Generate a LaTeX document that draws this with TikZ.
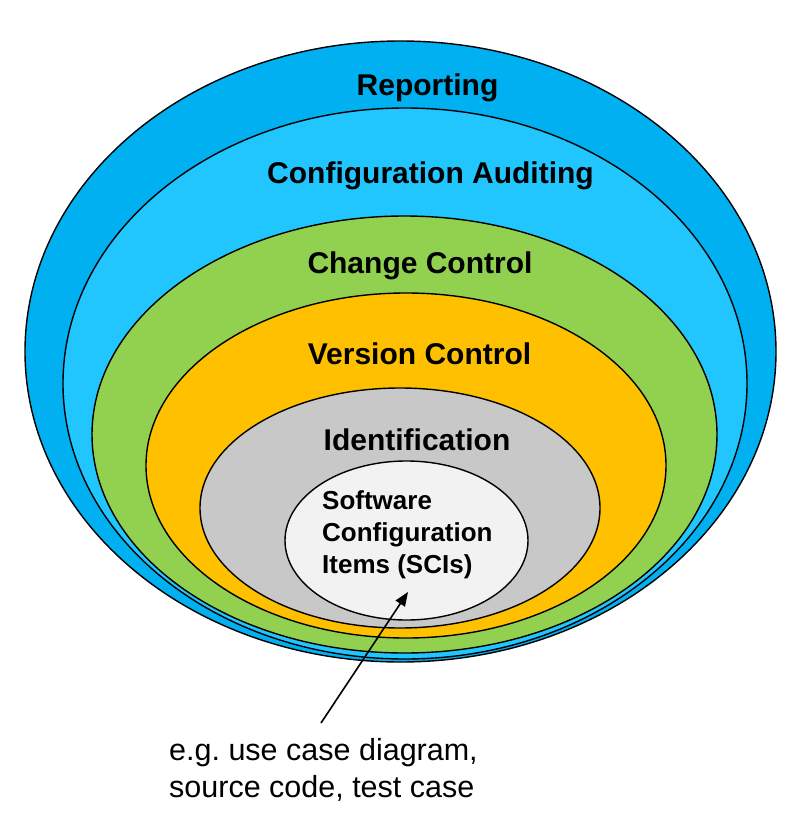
\documentclass[tikz,border=0pt]{standalone}
\usepackage{fontspec}
\setmainfont{Liberation Sans}
\frenchspacing
\usetikzlibrary{shapes.geometric,arrows.meta}
\definecolor{repblue}{HTML}{00B0F0}
\definecolor{audblue}{HTML}{21C6FF}
\definecolor{chggreen}{HTML}{92D050}
\definecolor{verorange}{HTML}{FFC000}
\definecolor{idgray}{HTML}{C8C8C8}
\definecolor{scigray}{HTML}{F2F2F2}
\tikzset{
  ring/.style={ellipse, draw=black, line width=1.4pt, inner sep=0pt, outer sep=0pt},
  layer/.style={font=\fontsize{30}{36}\selectfont\bfseries, anchor=base, inner sep=0pt},
  scitext/.style={font=\fontsize{26}{32}\selectfont\bfseries, anchor=base west, align=left, inner sep=0pt},
  notetext/.style={font=\fontsize{30.5}{37}\selectfont, anchor=base west, align=left, inner sep=0pt},
  pointer/.style={line width=1.6pt, -{Triangle[length=14pt,width=11pt]}}
}
\begin{document}
\begin{tikzpicture}[x=1pt,y=-1pt]
\useasboundingbox (0,0) rectangle (795,817);
\node[ring, fill=repblue, minimum width=751pt, minimum height=621pt] (rep) at (400.5,351.5) {};
\node[ring, fill=audblue, minimum width=684pt, minimum height=551pt] (aud) at (405,383.5) {};
\node[ring, fill=chggreen, minimum width=625pt, minimum height=437pt] (chg) at (404.5,434.5) {};
\node[ring, fill=verorange, minimum width=520pt, minimum height=345pt] (ver) at (406,465.5) {};
\node[ring, fill=idgray, minimum width=400pt, minimum height=240pt] (ident) at (400,508) {};
\node[ring, fill=scigray, minimum width=243pt, minimum height=159pt] (sci) at (406.5,540.5) {};

\node[layer] (treport) at (427.5,95) {Reporting};
\node[layer] (taudit) at (430.5,183) {Configuration Auditing};
\node[layer] (tchange) at (420,273) {Change Control};
\node[layer] (tversion) at (419.5,364) {Version Control};
\node[layer] (tident) at (417,450) {Identification};
\node[scitext] (tsci) at (322,573) {Software\\Configuration\\Items (SCIs)};

\node[notetext] (note) at (169,797) {e.g. use case diagram,\\source code, test case};
\coordinate (tail) at (321,723);
\coordinate (tip) at (408,592);
\draw[pointer] (tail) -- (tip);
\end{tikzpicture}
\end{document}
